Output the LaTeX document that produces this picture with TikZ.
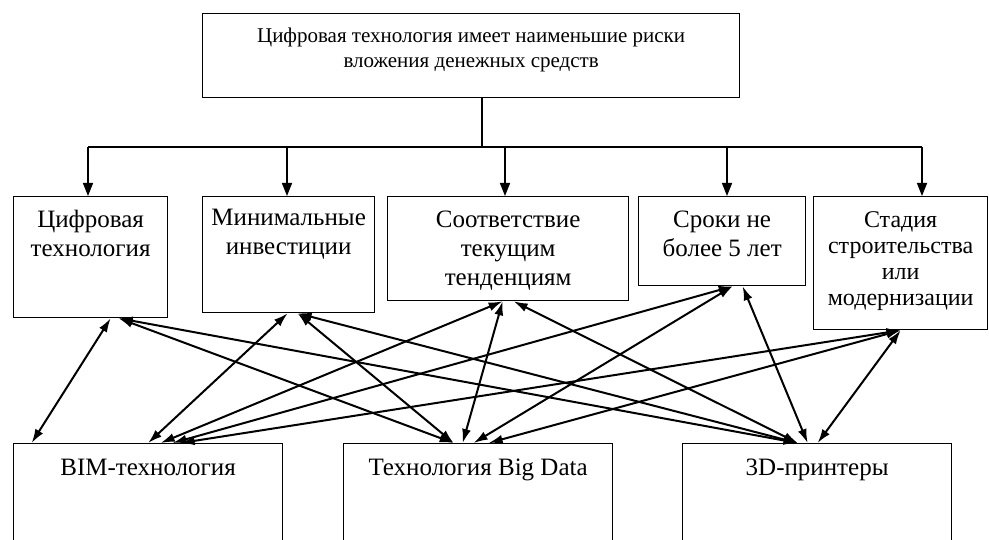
\documentclass[tikz,border=0pt]{standalone}
\usepackage{fontspec}
\setmainfont{Liberation Serif}
\usetikzlibrary{arrows.meta}

\tikzset{
  cell/.style={draw, line width=1.3pt, inner sep=0pt, anchor=north west, align=center,
    font=\fontsize{25pt}{29pt}\selectfont},
  bus/.style={line width=1.5pt},
  down/.style={line width=1.5pt, -{Triangle[length=13pt,width=10pt]}},
  link/.style={line width=2pt, {Latex[length=14pt,width=9pt]}-{Latex[length=14pt,width=9pt]}}
}

\begin{document}
\begin{tikzpicture}[x=1pt,y=-1pt]
\useasboundingbox (0,0) rectangle (989,540);
\clip (0,0) rectangle (989,540);

% head box
\node[cell, minimum width=537pt, text height=54pt, text depth=30pt,
  font=\fontsize{21pt}{25pt}\selectfont] (top) at (202,13)
  {Цифровая технология имеет наименьшие риски\\вложения денежных средств};

% middle row
\node[cell, minimum width=154pt, text height=60pt, text depth=61pt] (r1) at (13,196) {Цифровая\\технология};
\node[cell, minimum width=172pt, text height=58pt, text depth=58pt] (r2) at (202,196) {Минимальные\\инвестиции};
\node[cell, minimum width=241pt, text height=89pt, text depth=15pt] (r3) at (387,196) {Соответствие\\текущим\\тенденциям};
\node[cell, minimum width=167pt, text height=60pt, text depth=29pt] (r4) at (638,196) {Сроки не\\более 5 лет};
\node[cell, minimum width=174pt, text height=109pt, text depth=24pt,
  font=\fontsize{24pt}{26pt}\selectfont] (r5) at (813,196) {Стадия\\строительства\\или\\модернизации};

% bottom row
\node[cell, minimum width=269pt, text height=32pt, text depth=78pt] (b1) at (13,443) {BIM-технология};
\node[cell, minimum width=269pt, text height=32pt, text depth=78pt] (b2) at (343,443) {Технология Big Data};
\node[cell, minimum width=269pt, text height=32pt, text depth=78pt] (b3) at (682,443) {3D-принтеры};

% trunk and bus
\coordinate (hub) at (482,147);
\coordinate (busL) at (88,147);
\coordinate (busR) at (922,147);
\draw[bus] (top.south -| hub) -- (hub);
\draw[bus] (busL) -- (busR);
\foreach \x/\n in {88/r1, 287/r2, 505/r3, 727/r4, 922/r5}
   \draw[down] (\x,147) -- (\x,147 |- \n.north);

% links between rows
\foreach \s/\sx/\t/\tx in {r1/20/b1/-116.5, r1/28/b2/-24.5, r1/28/b3/-19.5,
                           r2/-1/b1/0,      r2/9/b2/-24.5,  r2/9/b3/-19.5,
                           r3/-5.5/b1/12.5, r3/-5.5/b2/-15.5, r3/5.5/b3/-19.5,
                           r4/10.5/b1/24.5, r4/10.5/b2/-4.5, r4/20.5/b3/-9.5,
                           r5/0/b1/32.5,    r5/0/b2/10.5,   r5/0/b3/0.5}
   \draw[link] ([xshift=\sx pt]\s.south) -- ([xshift=\tx pt]\t.north);
\end{tikzpicture}
\end{document}
